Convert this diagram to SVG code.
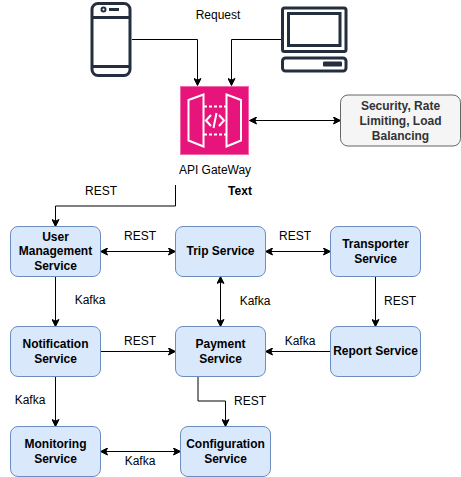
<svg xmlns="http://www.w3.org/2000/svg" width="461" height="477" viewBox="0 0 461 477">
<style>
text{font-family:"Liberation Sans",Arial,sans-serif;font-size:12px;fill:#000;text-anchor:middle}
.b{font-weight:bold}
.svc{fill:#dae8fc;stroke:#6c8ebf;stroke-width:1}
.c{fill:none;stroke:#000;stroke-width:1}
.ic{fill:none;stroke:#232f3e;stroke-width:3}
.w{fill:none;stroke:#fff;stroke-width:2}
</style>
<defs>
<marker id="a" viewBox="0 0 8 8" refX="7" refY="4" markerWidth="8" markerHeight="8" orient="auto-start-reverse" markerUnits="userSpaceOnUse"><path d="M0.5 0.5L7.5 4L0.5 7.5L2.2 4Z" fill="#000" stroke="#000"/></marker>
</defs>
<rect width="461" height="477" fill="#fff"/>
<g id="connectors">
<path class="c" marker-end="url(#a)" d="M132 39.500H197.500V85"/>
<path class="c" marker-end="url(#a)" d="M281 39.500H231.500V85"/>
<path class="c" marker-start="url(#a)" marker-end="url(#a)" d="M250 120.500H340"/>
<path class="c" marker-end="url(#a)" d="M175.500 185V206H55.500V226"/>
<path class="c" marker-start="url(#a)" marker-end="url(#a)" d="M101 251.500H175"/>
<path class="c" marker-start="url(#a)" marker-end="url(#a)" d="M266 251.500H330"/>
<path class="c" marker-end="url(#a)" d="M55.500 277V326"/>
<path class="c" marker-start="url(#a)" marker-end="url(#a)" d="M220.500 277V326"/>
<path class="c" marker-end="url(#a)" d="M375.500 277V326"/>
<path class="c" marker-end="url(#a)" d="M101 351.500H175"/>
<path class="c" marker-end="url(#a)" d="M330 351.500H266"/>
<path class="c" marker-end="url(#a)" d="M55.500 377V426"/>
<path class="c" marker-end="url(#a)" d="M198 377V401H225.500V426"/>
<path class="c" marker-start="url(#a)" marker-end="url(#a)" d="M101 451.500H180"/>
</g>
<g id="phone">
<rect class="ic" x="92" y="3.500" width="38" height="72" rx="6"/>
<path class="ic" d="M92 17.500H130M92 66.500H130"/>
<circle cx="103.500" cy="9.500" r="2" fill="none" stroke="#232f3e" stroke-width="2"/>
<rect x="109" y="8" width="10" height="3" fill="#232f3e"/>
</g>
<g id="desktop">
<rect class="ic" x="282.500" y="8" width="63.500" height="43.500" rx="2"/>
<rect class="ic" x="288.500" y="13.500" width="51.500" height="32"/>
<rect class="ic" x="282.500" y="58" width="63.500" height="13" rx="3"/>
<rect x="323" y="61.500" width="19" height="5" rx="1" fill="#232f3e"/>
</g>
<g id="gateway">
<rect x="180.500" y="86.500" width="68" height="68" fill="#e7157b" stroke="#ee6aa9" stroke-width="1"/>
<path class="w" d="M203.500 94.500L188.500 100V140.500L203.500 146.500ZM226.500 94.500L241 100V140.500L226.500 146.500Z"/>
<path class="w" stroke-dasharray="3 2" d="M204 106.500H226M204 134.500H226"/>
<path class="w" d="M211 115L206 120.500L211 126M219 115L224 120.500L219 126M216.500 113L213.500 128"/>
<text x="215" y="174">API GateWay</text>
</g>
<g id="security">
<rect x="340.500" y="95" width="120" height="51" rx="7.500" fill="#f5f5f5" stroke="#666"/>
<text class="b" fill="#333" style="fill:#333"><tspan x="400.500" y="110">Security, Rate</tspan><tspan x="400.500" y="125">Limiting, Load</tspan><tspan x="400.500" y="140">Balancing</tspan></text>
</g>
<g id="user-management">
<rect class="svc" x="10.500" y="226.500" width="90" height="50" rx="7.500"/>
<text class="b"><tspan x="55.500" y="241">User</tspan><tspan x="55.500" y="255">Management</tspan><tspan x="55.500" y="270">Service</tspan></text>
</g>
<g id="trip">
<rect class="svc" x="175.500" y="226.500" width="90" height="50" rx="7.500"/>
<text class="b" x="220.500" y="255">Trip Service</text>
</g>
<g id="transporter">
<rect class="svc" x="330.500" y="226.500" width="90" height="50" rx="7.500"/>
<text class="b"><tspan x="375.500" y="248">Transporter</tspan><tspan x="375.500" y="263">Service</tspan></text>
</g>
<g id="notification">
<rect class="svc" x="10.500" y="326.500" width="90" height="50" rx="7.500"/>
<text class="b"><tspan x="55.500" y="348">Notification</tspan><tspan x="55.500" y="363">Service</tspan></text>
</g>
<g id="payment">
<rect class="svc" x="175.500" y="326.500" width="90" height="50" rx="7.500"/>
<text class="b"><tspan x="220.500" y="348">Payment</tspan><tspan x="220.500" y="363">Service</tspan></text>
</g>
<g id="report">
<rect class="svc" x="330.500" y="326.500" width="90" height="50" rx="7.500"/>
<text class="b" x="375.500" y="355">Report Service</text>
</g>
<g id="monitoring">
<rect class="svc" x="10.500" y="426.500" width="90" height="50" rx="7.500"/>
<text class="b"><tspan x="55.500" y="448">Monitoring</tspan><tspan x="55.500" y="463">Service</tspan></text>
</g>
<g id="configuration">
<rect class="svc" x="180.500" y="426.500" width="90" height="50" rx="7.500"/>
<text class="b"><tspan x="225.500" y="448">Configuration</tspan><tspan x="225.500" y="463">Service</tspan></text>
</g>
<g id="labels">
<text x="218" y="19">Request</text>
<text class="b" x="240" y="195">Text</text>
<text x="101" y="195">REST</text>
<text x="140" y="240">REST</text>
<text x="295" y="240">REST</text>
<text x="90" y="304">Kafka</text>
<text x="255" y="305">Kafka</text>
<text x="400" y="305">REST</text>
<text x="140" y="345">REST</text>
<text x="300" y="345">Kafka</text>
<text x="30" y="404">Kafka</text>
<text x="250" y="405">REST</text>
<text x="140" y="465">Kafka</text>
</g>
</svg>
